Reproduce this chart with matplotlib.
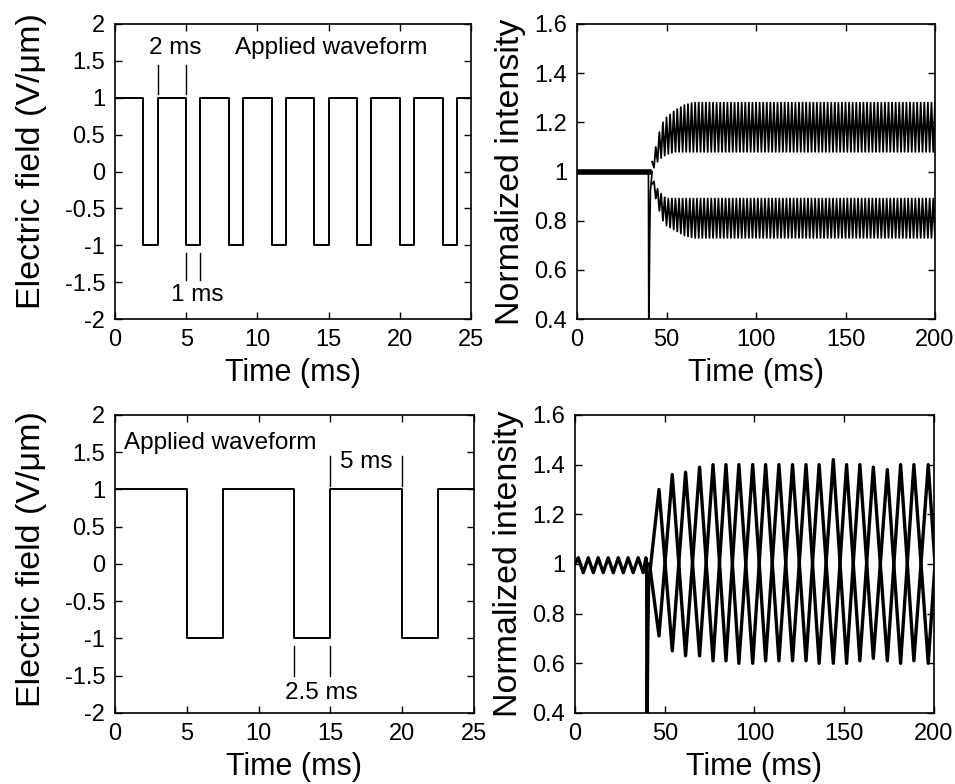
import numpy as np
import matplotlib
matplotlib.use("Agg")
import matplotlib.pyplot as plt

plt.rcParams['font.family'] = ['Liberation Sans', 'DejaVu Sans']

# applied square waveforms (switching times, level held until next time)
wave1_t = [0, 2, 3, 5, 6, 8, 9, 11, 12, 14, 15, 17, 18, 20, 21, 23, 24, 25]
wave1_v = [1, -1, 1, -1, 1, -1, 1, -1, 1, -1, 1, -1, 1, -1, 1, -1, 1, 1]
wave2_t = [0, 5, 7.5, 12.5, 15, 20, 22.5, 25]
wave2_v = [1, -1, 1, -1, 1, -1, 1, 1]

# top-right intensity: band envelopes
env1_t = [42, 44, 46, 48, 50, 55, 60, 65, 80, 200]
up_hi = [1.04, 1.10, 1.16, 1.20, 1.22, 1.25, 1.27, 1.28, 1.28, 1.28]
up_lo = [1.00, 1.03, 1.05, 1.06, 1.07, 1.08, 1.08, 1.08, 1.08, 1.08]
dn_hi = [0.98, 0.94, 0.92, 0.90, 0.89, 0.89, 0.89, 0.89, 0.89, 0.89]
dn_lo = [0.95, 0.89, 0.84, 0.80, 0.78, 0.76, 0.74, 0.73, 0.73, 0.73]
step1 = 1.0  # spacing of the fast response strokes

# bottom-right intensity: turning points of the two crossing traces
vert2_t = [46.8, 54.2, 61.6, 69.4, 76.9, 84.1, 91.3, 99.0, 106.2, 113.6, 121.2,
           128.7, 136.0, 143.9, 151.3, 158.7, 166.2, 174.0, 181.4, 188.8, 196.8, 204.3]
peak2 = [1.30, 1.36, 1.37, 1.39, 1.40, 1.40, 1.40, 1.40, 1.40, 1.40, 1.40,
         1.40, 1.40, 1.42, 1.40, 1.40, 1.39, 1.38, 1.40, 1.40, 1.40, 1.40]
trough2 = [0.71, 0.65, 0.63, 0.63, 0.61, 0.61, 0.60, 0.60, 0.61, 0.61, 0.61,
           0.61, 0.60, 0.60, 0.60, 0.61, 0.62, 0.61, 0.60, 0.61, 0.60, 0.60]
pre2_t = [0, 1.8, 4.6, 7.4, 10.2, 12.9, 15.7, 18.5, 21.3, 24.1, 26.9, 29.6, 32.4, 35.2, 38.0, 39.5]
pre2_v = [1.0, 1.025, 0.965, 1.025, 0.965, 1.025, 0.965, 1.025, 0.965, 1.025, 0.965,
          1.025, 0.965, 1.025, 0.965, 1.025]
spike_t = [39.9, 40.1, 40.6, 41.0]
spike_v = [1.0, 0.30, 0.72, 0.92]

fig = plt.figure(figsize=(9.55, 7.84), dpi=100)
ax1 = fig.add_axes([0.1204, 0.5931, 0.3728, 0.3763])
ax2 = fig.add_axes([0.6042, 0.5931, 0.3749, 0.3763])
ax3 = fig.add_axes([0.1204, 0.0906, 0.3759, 0.3801])
ax4 = fig.add_axes([0.6021, 0.0906, 0.3759, 0.3801])

tick_fs = 17
for ax in (ax1, ax2, ax3, ax4):
    ax.tick_params(direction='in', top=True, right=True, length=5, width=1,
                   labelsize=tick_fs, pad=7)
    for s in ax.spines.values():
        s.set_linewidth(1.2)
    ax.set_xlabel('Time (ms)', fontsize=22, labelpad=5)

# --- left: applied waveforms
for ax, t, v in ((ax1, wave1_t, wave1_v), (ax3, wave2_t, wave2_v)):
    ax.step(t, v, where='post', color='black', lw=1.4)
    ax.set_xlim(0, 25)
    ax.set_ylim(-2, 2)
    ax.set_xticks([0, 5, 10, 15, 20, 25])
    ax.set_yticks([-2, -1.5, -1, -0.5, 0, 0.5, 1, 1.5, 2])
    ax.set_yticklabels(['-2', '-1.5', '-1', '-0.5', '0', '0.5', '1', '1.5', '2'])
    ax.set_ylabel('Electric field (V/\u03bcm)', fontsize=24.5)
ax1.yaxis.set_label_coords(-0.19, 0.535)
ax3.yaxis.set_label_coords(-0.19, 0.515)

txt_fs = 17.5
ax1.text(15.2, 1.68, 'Applied waveform', fontsize=txt_fs, ha='center', va='center')
ax1.text(4.2, 1.68, '2 ms', fontsize=txt_fs, ha='center', va='center')
ax1.plot([3, 3], [1.05, 1.45], color='black', lw=1)
ax1.plot([5, 5], [1.05, 1.45], color='black', lw=1)
ax1.plot([5, 5], [-1.1, -1.47], color='black', lw=1)
ax1.plot([6, 6], [-1.1, -1.47], color='black', lw=1)
ax1.text(5.8, -1.68, '1 ms', fontsize=txt_fs, ha='center', va='center')

ax3.text(0.6, 1.62, 'Applied waveform', fontsize=txt_fs, ha='left', va='center')
ax3.plot([15, 15], [1.05, 1.45], color='black', lw=1)
ax3.plot([20, 20], [1.05, 1.45], color='black', lw=1)
ax3.text(17.5, 1.37, '5 ms', fontsize=txt_fs, ha='center', va='center')
ax3.plot([12.5, 12.5], [-1.1, -1.5], color='black', lw=1)
ax3.plot([15, 15], [-1.1, -1.5], color='black', lw=1)
ax3.text(14.4, -1.73, '2.5 ms', fontsize=txt_fs, ha='center', va='center')

# --- top right: fast response
vt = np.arange(env1_t[0], 201, step1)
uh = np.interp(vt, env1_t, up_hi)
ul = np.interp(vt, env1_t, up_lo)
dh = np.interp(vt, env1_t, dn_hi)
dl = np.interp(vt, env1_t, dn_lo)
odd = (np.arange(len(vt)) % 2).astype(bool)
upper = np.where(odd, ul, uh)
lower = np.where(odd, dh, dl)
ax2.plot([0, 40], [1, 1], color='black', lw=4)
ax2.plot(spike_t + [42], spike_v + [1.0], color='black', lw=1.2)
ax2.plot(vt, upper, color='black', lw=1.3)
ax2.plot(vt, lower, color='black', lw=1.3)

# --- bottom right: slow response, two crossing traces
n = len(vert2_t)
trA = [peak2[i] if i % 2 == 0 else trough2[i] for i in range(n)]
trB = [trough2[i] if i % 2 == 0 else peak2[i] for i in range(n)]
ax4.plot(pre2_t + spike_t, pre2_v + spike_v, color='black', lw=2.4)
ax4.plot([41.0] + vert2_t, [0.92] + trA, color='black', lw=2.4)
ax4.plot([41.5] + vert2_t, [1.0] + trB, color='black', lw=2.4)

for ax in (ax2, ax4):
    ax.set_xlim(0, 200)
    ax.set_ylim(0.4, 1.6)
    ax.set_xticks([0, 50, 100, 150, 200])
    ax.set_yticks([0.4, 0.6, 0.8, 1.0, 1.2, 1.4, 1.6])
    ax.set_yticklabels(['0.4', '0.6', '0.8', '1', '1.2', '1.4', '1.6'])
    ax.set_ylabel('Normalized intensity', fontsize=24.5, labelpad=6)

fig.savefig('out.png', dpi=100)
